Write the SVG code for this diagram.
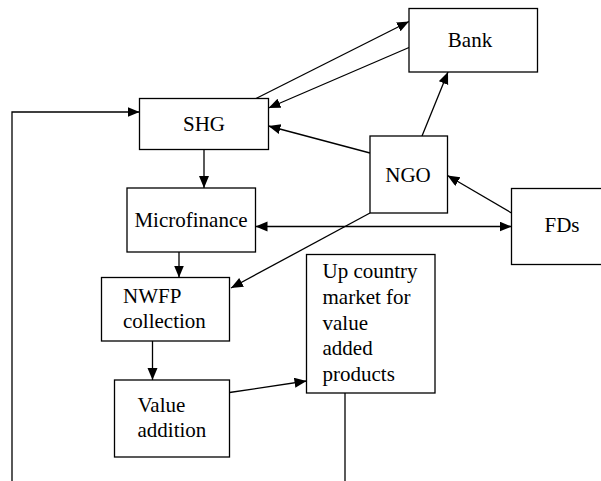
<svg xmlns="http://www.w3.org/2000/svg" width="601" height="481" viewBox="0 0 601 481">
  <style>
    .box { fill: #fff; stroke: #000; stroke-width: 1.3; }
    .lbl { font-family: 'Liberation Serif', 'Times New Roman', Times, 'DejaVu Serif', serif; font-size: 21px; fill: #000; }
    .mid { text-anchor: middle; }
    .edge { fill: none; stroke: #000; stroke-width: 1.3; }
  </style>
  <defs>
    <marker id="arrow" markerUnits="userSpaceOnUse" markerWidth="14" markerHeight="12" refX="12" refY="5" orient="auto-start-reverse">
      <path d="M0,0 L12,5 L0,10 Z" fill="#000"/>
    </marker>
  </defs>

  <g id="connectors">
    <!-- feedback loop from the bottom into SHG -->
    <polyline class="edge" points="12,481 12,112 139.5,112" marker-end="url(#arrow)"/>
    <!-- SHG to Bank and back -->
    <line class="edge" x1="256" y1="98.5" x2="409" y2="21.5" marker-end="url(#arrow)"/>
    <line class="edge" x1="409" y1="47.5" x2="268.5" y2="108" marker-end="url(#arrow)"/>
    <!-- NGO links -->
    <line class="edge" x1="370" y1="153" x2="268.5" y2="126" marker-end="url(#arrow)"/>
    <line class="edge" x1="422" y1="136" x2="448" y2="72" marker-end="url(#arrow)"/>
    <line class="edge" x1="511.5" y1="213" x2="447.5" y2="175.5" marker-end="url(#arrow)"/>
    <line class="edge" x1="370" y1="213" x2="231" y2="288" marker-end="url(#arrow)"/>
    <!-- main chain -->
    <line class="edge" x1="204" y1="149.5" x2="204" y2="188" marker-end="url(#arrow)"/>
    <line class="edge" x1="255.5" y1="226.5" x2="511.5" y2="226.5" marker-start="url(#arrow)" marker-end="url(#arrow)"/>
    <line class="edge" x1="179" y1="252" x2="179" y2="277.5" marker-end="url(#arrow)"/>
    <line class="edge" x1="152.5" y1="341" x2="152.5" y2="380" marker-end="url(#arrow)"/>
    <line class="edge" x1="229.5" y1="392.5" x2="306.5" y2="381" marker-end="url(#arrow)"/>
    <!-- outflow from market -->
    <line class="edge" x1="345" y1="393" x2="345" y2="481"/>
  </g>

  <g id="bank">
    <rect class="box" x="409" y="8.5" width="128.5" height="63.5"/>
    <text class="lbl mid" x="470" y="47" font-family="Liberation Serif, serif">Bank</text>
  </g>

  <g id="shg">
    <rect class="box" x="139.5" y="98.5" width="129" height="51"/>
    <text class="lbl mid" x="204" y="131">SHG</text>
  </g>

  <g id="ngo">
    <rect class="box" x="370" y="136" width="77.5" height="77"/>
    <text class="lbl mid" x="408" y="182">NGO</text>
  </g>

  <g id="fds">
    <rect class="box" x="511.5" y="188.5" width="95" height="76"/>
    <text class="lbl mid" x="562" y="232">FDs</text>
  </g>

  <g id="microfinance">
    <rect class="box" x="127" y="188" width="128.5" height="64"/>
    <text class="lbl mid" x="191" y="227">Microfinance</text>
  </g>

  <g id="nwfp">
    <rect class="box" x="101.5" y="277.5" width="128" height="63.5"/>
    <text class="lbl" x="123" y="303">NWFP</text>
    <text class="lbl" x="123" y="328">collection</text>
  </g>

  <g id="value-addition">
    <rect class="box" x="114.5" y="380" width="115" height="77"/>
    <text class="lbl" x="137.5" y="412">Value</text>
    <text class="lbl" x="137.5" y="437">addition</text>
  </g>

  <g id="upcountry-market">
    <rect class="box" x="306.5" y="254.5" width="128.5" height="138.5"/>
    <text class="lbl" x="322.5" y="278">Up country</text>
    <text class="lbl" x="322.5" y="304">market for</text>
    <text class="lbl" x="322.5" y="329.5">value</text>
    <text class="lbl" x="322.5" y="355">added</text>
    <text class="lbl" x="322.5" y="380.5">products</text>
  </g>
</svg>
